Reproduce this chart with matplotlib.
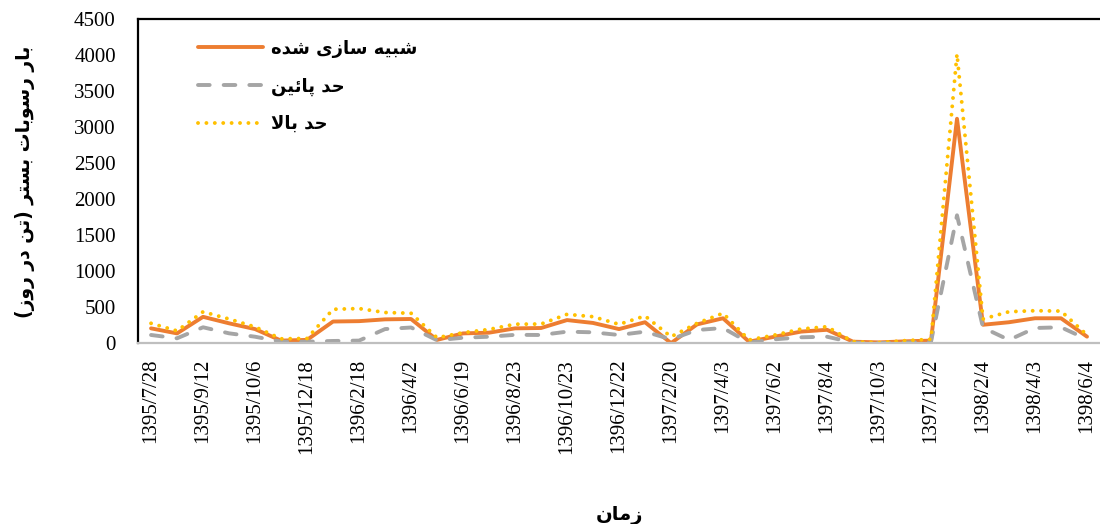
import numpy as np
import matplotlib.pyplot as plt

# Tick labels (every second sample is labelled)
tick_labels = ['1395/7/28', '1395/9/12', '1395/10/6', '1395/12/18', '1396/2/18',
               '1396/4/2', '1396/6/19', '1396/8/23', '1396/10/23', '1396/12/22',
               '1397/2/20', '1397/4/3', '1397/6/2', '1397/8/4', '1397/10/3',
               '1397/12/2', '1398/2/4', '1398/4/3', '1398/6/4']

# Bed load (ton/day)
simulated = [210, 140, 370, 280, 200, 40, 50, 305, 310, 335, 340, 50, 140, 150,
             210, 215, 325, 285, 200, 295, 5, 265, 350, 25, 95, 165, 190, 25,
             15, 30, 40, 3120, 260, 295, 350, 350, 95]
lower = [118, 72, 225, 141, 94, 25, 25, 35, 40, 200, 222, 45, 80, 94,
         120, 118, 164, 155, 118, 164, 58, 187, 215, 12, 58, 86, 94, 12,
         5, 12, 25, 1780, 220, 49, 215, 225, 58]
upper = [280, 175, 440, 340, 230, 65, 70, 475, 485, 430, 420, 80, 150, 195,
         268, 270, 405, 372, 266, 382, 94, 280, 420, 49, 118, 201, 233, 25,
         12, 39, 58, 4020, 340, 441, 455, 450, 118]

label_sim = 'شبیه سازی شده'
label_low = 'حد پائین'
label_up = 'حد بالا'
x_title = 'زمان'
y_title = 'بار رسوبات بستر (تن در روز)'

# matplotlib has no Arabic shaping, so map letters to presentation forms by hand
# (isolated, final, initial, medial)
FORMS = {
    'ا': ('\uFE8D', '\uFE8E', None, None),
    'ب': ('\uFE8F', '\uFE90', '\uFE91', '\uFE92'),
    'پ': ('\uFB56', '\uFB57', '\uFB58', '\uFB59'),
    'ت': ('\uFE95', '\uFE96', '\uFE97', '\uFE98'),
    'ح': ('\uFEA1', '\uFEA2', '\uFEA3', '\uFEA4'),
    'د': ('\uFEA9', '\uFEAA', None, None),
    'ر': ('\uFEAD', '\uFEAE', None, None),
    'ز': ('\uFEAF', '\uFEB0', None, None),
    'س': ('\uFEB1', '\uFEB2', '\uFEB3', '\uFEB4'),
    'ش': ('\uFEB5', '\uFEB6', '\uFEB7', '\uFEB8'),
    'ل': ('\uFEDD', '\uFEDE', '\uFEDF', '\uFEE0'),
    'م': ('\uFEE1', '\uFEE2', '\uFEE3', '\uFEE4'),
    'ن': ('\uFEE5', '\uFEE6', '\uFEE7', '\uFEE8'),
    'ه': ('\uFEE9', '\uFEEA', '\uFEEB', '\uFEEC'),
    'و': ('\uFEED', '\uFEEE', None, None),
    'ئ': ('\uFE89', '\uFE8A', '\uFE8B', '\uFE8C'),
    'ی': ('\uFBFC', '\uFBFD', '\uFBFE', '\uFBFF'),
}
MIRROR = {'(': ')', ')': '('}


def shape(text):
    out = []
    i = 0
    n = len(text)
    while i < n:
        ch = text[i]
        prev = text[i - 1] if i > 0 else ''
        join_prev = prev in FORMS and FORMS[prev][2] is not None
        if ch == 'ل' and i + 1 < n and text[i + 1] == 'ا':
            out.append('\uFEFC' if join_prev else '\uFEFB')
            i += 2
            continue
        if ch not in FORMS:
            out.append(ch)
            i += 1
            continue
        iso, fin, ini, med = FORMS[ch]
        nxt = text[i + 1] if i + 1 < n else ''
        join_next = ini is not None and nxt in FORMS
        if join_prev and join_next:
            out.append(med)
        elif join_prev:
            out.append(fin)
        elif join_next:
            out.append(ini)
        else:
            out.append(iso)
        i += 1
    return ''.join(MIRROR.get(c, c) for c in reversed(out))


fa_font = {'family': ['DejaVu Sans'], 'weight': 'bold'}
num_font = ['Liberation Serif', 'DejaVu Serif']

x = np.arange(len(simulated))

fig = plt.figure(figsize=(11, 5.24), dpi=100)
ax = fig.add_axes([0.1255, 0.3445, 0.8745, 0.6185])

ax.plot(x, simulated, color='#ED7D31', lw=2.8, solid_capstyle='round',
        solid_joinstyle='round', label=shape(label_sim))
ax.plot(x, lower, color='#A5A5A5', lw=2.8, dashes=(3, 3.6), dash_capstyle='round',
        label=shape(label_low))
ax.plot(x, upper, color='#FFC000', lw=2.8, linestyle=(0, (0.01, 2.15)),
        dash_capstyle='round', label=shape(label_up))

ax.set_xlim(-0.5, len(simulated) - 0.5)
ax.set_ylim(0, 4500)
ax.set_yticks(np.arange(0, 4501, 500))
ax.set_xticks(x[::2])
ax.set_xticklabels(tick_labels, rotation=90)

ax.tick_params(axis='y', length=0, pad=16, labelsize=15)
ax.tick_params(axis='x', length=0, pad=11, labelsize=15)
for lab in ax.get_xticklabels() + ax.get_yticklabels():
    lab.set_family(num_font)

for side in ['left', 'top']:
    ax.spines[side].set_color('black')
    ax.spines[side].set_linewidth(1.6)
ax.spines['bottom'].set_color('#BFBFBF')
ax.spines['bottom'].set_linewidth(1.6)
ax.spines['right'].set_visible(False)

ax.set_xlabel(shape(x_title), fontdict=fa_font, fontsize=14, labelpad=38)
ax.set_ylabel(shape(y_title), fontdict=fa_font, fontsize=13.5, labelpad=28)

leg = ax.legend(loc='upper left', bbox_to_anchor=(0.053, 0.965), frameon=False,
                handlelength=3.6, handletextpad=0.45, labelspacing=1.08,
                borderpad=0, prop={'family': 'DejaVu Sans', 'weight': 'bold', 'size': 13})

fig.savefig('out.png', dpi=100)
